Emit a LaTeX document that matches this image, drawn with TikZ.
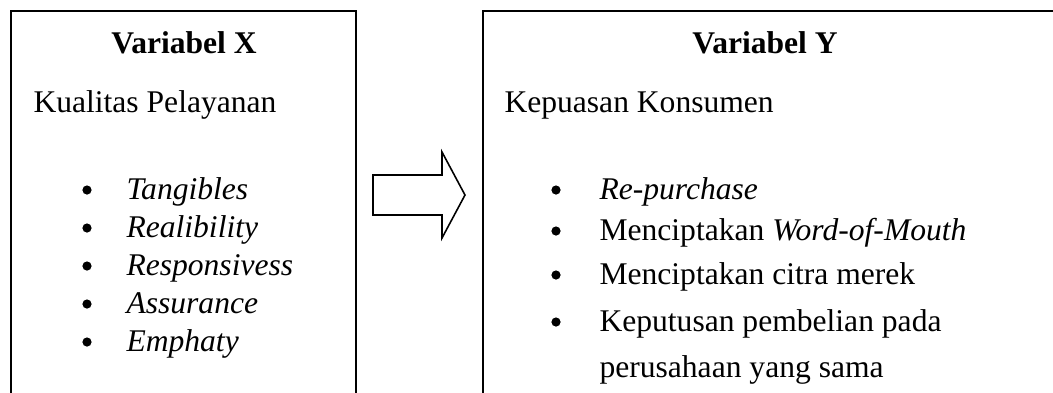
\documentclass[tikz,border=0pt]{standalone}
\usepackage{fontspec}
\setmainfont{Liberation Serif}
\def\rowgap{38}

\begin{document}
\begin{tikzpicture}[x=0.38pt, y=-0.38pt,
		varbox/.style={line width=0.75pt},
		title/.style={anchor=base, inner sep=0pt, font=\fontsize{12}{14}\selectfont\bfseries},
		item/.style={anchor=base west, inner sep=0pt, font=\fontsize{12}{14}\selectfont},
		bulletdot/.style={circle, fill, inner sep=0pt, minimum size=3.5pt},
		blockarrow/.style={line width=0.6pt, line join=miter}]
		
		\useasboundingbox (0,0) rectangle (1053,392);
		\clip (0,0) rectangle (1053,392);
		
		% ---------- Boxes (cut off at the page edge) ----------
		\draw[varbox] (11,11) rectangle (356,420);
		\draw[varbox] (483,11) rectangle (1060,420);
		
		% ---------- Variabel X ----------
		\node[title] (titleX) at (184,53) {Variabel X};
		\node[item] (nameX) at (33,112) {Kualitas Pelayanan};
		\foreach \txt [count=\i] in {Tangibles, Realibility, Responsivess, Assurance, Emphaty}{
			\pgfmathsetmacro{\yy}{199+\rowgap*(\i-1)}
			\node[bulletdot] (dotX\i) at (87,\yy-9) {};
			\node[item] (itemX\i) at (126,\yy) {\textit{\txt}};
		}
		
		% ---------- Block arrow X -> Y ----------
		\draw[blockarrow] (373,175) -- (442,175) -- (442,152) -- (465,195)
		-- (442,238) -- (442,215) -- (373,215) -- cycle;
		
		% ---------- Variabel Y ----------
		\node[title] (titleY) at (765,53) {Variabel Y};
		\node[item] (nameY) at (504,112) {Kepuasan Konsumen};
		\node[bulletdot] (dotY1) at (556,190) {};
		\node[item] (itemY1) at (599,199) {\textit{Re-purchase}};
		\node[bulletdot] (dotY2) at (556,231) {};
		\node[item] (itemY2) at (599,240) {Menciptakan \textit{Word-of-Mouth}};
		\node[bulletdot] (dotY3) at (556,275) {};
		\node[item] (itemY3) at (599,284) {Menciptakan citra merek};
		\node[bulletdot] (dotY4) at (556,322) {};
		\node[item] (itemY4) at (599,331) {Keputusan pembelian pada};
		\node[item] (itemY4b) at (599,377) {perusahaan yang sama};
		
	\end{tikzpicture}
\end{document}
